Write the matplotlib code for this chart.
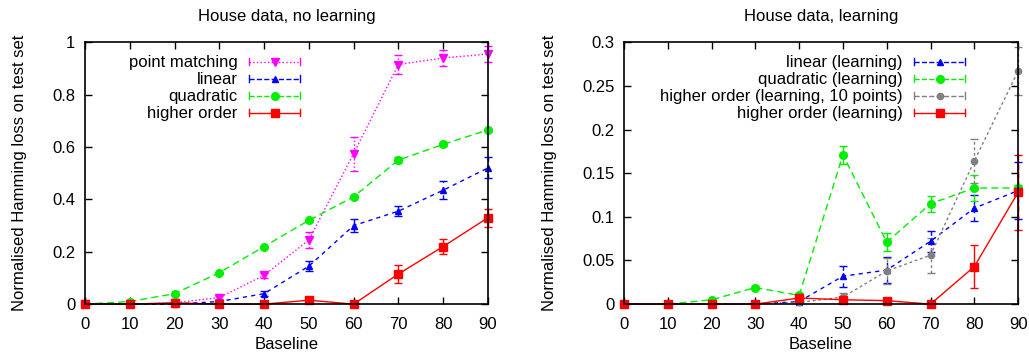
import numpy as np
import matplotlib
matplotlib.use("Agg")
import matplotlib.pyplot as plt
from matplotlib.container import ErrorbarContainer
from matplotlib.legend_handler import HandlerBase
from matplotlib.lines import Line2D

plt.rcParams["font.family"] = ["Liberation Sans", "DejaVu Sans"]
plt.rcParams["font.size"] = 12

baseline = [0, 10, 20, 30, 40, 50, 60, 70, 80, 90]

# House data, no learning
pm = [0, 0, 0.005, 0.025, 0.11, 0.245, 0.575, 0.915, 0.94, 0.955]
pm_err = [0, 0, 0, 0.005, 0.01, 0.03, 0.065, 0.035, 0.03, 0.03]
lin = [0, 0, 0, 0.01, 0.04, 0.145, 0.30, 0.355, 0.435, 0.52]
lin_err = [0, 0, 0, 0.005, 0.01, 0.02, 0.025, 0.02, 0.035, 0.04]
quad = [0, 0.01, 0.04, 0.12, 0.22, 0.32, 0.41, 0.55, 0.61, 0.665]
quad_err = [0, 0, 0, 0, 0, 0.005, 0.005, 0.01, 0.005, 0.005]
hi = [0, 0, 0.005, 0, 0, 0.015, 0, 0.115, 0.22, 0.33]
hi_err = [0, 0, 0, 0, 0, 0, 0, 0.035, 0.03, 0.035]

# House data, learning
lin_l = [0, 0, 0, 0, 0.003, 0.032, 0.039, 0.072, 0.11, 0.13]
lin_l_err = [0, 0, 0, 0, 0.002, 0.012, 0.015, 0.012, 0.015, 0.033]
quad_l = [0, 0, 0.005, 0.019, 0.01, 0.171, 0.071, 0.115, 0.133, 0.133]
quad_l_err = [0, 0, 0, 0.002, 0.003, 0.01, 0.01, 0.009, 0.015, 0.003]
hi10_l = [0, 0, 0, 0, 0.002, 0.008, 0.038, 0.056, 0.164, 0.267]
hi10_l_err = [0, 0, 0, 0, 0.001, 0.005, 0.015, 0.02, 0.025, 0.028]
hi_l = [0, 0, 0, 0, 0.007, 0.005, 0.004, 0, 0.043, 0.128]
hi_l_err = [0, 0, 0, 0, 0.002, 0.001, 0.001, 0.001, 0.025, 0.043]


class GnuplotErrHandler(HandlerBase):
    # gnuplot-like key sample: line with end caps and a marker in the middle
    def create_artists(self, legend, orig_handle, xdescent, ydescent, width, height,
                       fontsize, trans):
        src = orig_handle[0]
        color = src.get_color()
        x0, x1 = -xdescent, width - xdescent
        y = height / 2 - ydescent
        h = 0.3 * height
        line = Line2D([x0, x1], [y, y], color=color, ls=src.get_linestyle(), lw=1)
        capl = Line2D([x0, x0], [y - h, y + h], color=color, lw=1)
        capr = Line2D([x1, x1], [y - h, y + h], color=color, lw=1)
        mk = Line2D([(x0 + x1) / 2], [y], color=color, marker=src.get_marker(),
                    ms=src.get_markersize(), ls="none")
        arts = [line, capl, capr, mk]
        for a in arts:
            a.set_transform(trans)
        return arts


def plot_series(ax, y, err, color, marker, ls, label, ms=5.5):
    eb = ax.errorbar(baseline, y, yerr=err, color=color, marker=marker, ls=ls,
                     lw=1, ms=ms, capsize=3, elinewidth=1, label=label, clip_on=False)
    for c in eb[2]:
        c.set_linestyle(ls)
    return eb


def style_axes(ax, ymax, yticks, ylabels, title, leg_x):
    ax.set_xlim(0, 90)
    ax.set_ylim(0, ymax)
    ax.set_xticks(baseline)
    ax.set_yticks(yticks)
    ax.set_yticklabels(ylabels)
    ax.tick_params(direction="in", top=True, right=True, length=5, width=1, pad=7)
    ax.tick_params(axis="x", pad=9)
    for s in ax.spines.values():
        s.set_linewidth(1.2)
    ax.set_xlabel("Baseline", labelpad=4)
    ax.set_ylabel("Normalised Hamming loss on test set", labelpad=18)
    ax.set_title(title, fontsize=12, pad=15)
    ax.legend(loc="upper right", bbox_to_anchor=(leg_x, 0.95), markerfirst=False,
              frameon=False, handlelength=3.05, borderpad=0, borderaxespad=0,
              labelspacing=0.12, handletextpad=0.7,
              handler_map={ErrorbarContainer: GnuplotErrHandler()})


fig = plt.figure(figsize=(10.29, 3.52), dpi=100)
ax1 = fig.add_axes([0.0826, 0.136, 0.3916, 0.744])
ax2 = fig.add_axes([0.6064, 0.136, 0.383, 0.744])

plot_series(ax1, pm, pm_err, "#ff00ff", "v", ":", "point matching")
plot_series(ax1, lin, lin_err, "#0000ff", "^", (0, (3, 3)), "linear", ms=5)
plot_series(ax1, quad, quad_err, "#00ee00", "o", (0, (5, 3)), "quadratic")
plot_series(ax1, hi, hi_err, "#ff0000", "s", "-", "higher order", ms=6)
style_axes(ax1, 1, [0, 0.2, 0.4, 0.6, 0.8, 1], ["0", "0.2", "0.4", "0.6", "0.8", "1"],
           "House data, no learning", 0.5335)

plot_series(ax2, lin_l, lin_l_err, "#0000ff", "^", (0, (3, 3)), "linear (learning)", ms=5)
plot_series(ax2, quad_l, quad_l_err, "#00ee00", "o", (0, (5, 3)), "quadratic (learning)")
plot_series(ax2, hi10_l, hi10_l_err, "#808080", "o", (0, (2, 2)),
            "higher order (learning, 10 points)", ms=4.5)
plot_series(ax2, hi_l, hi_l_err, "#ff0000", "s", "-", "higher order (learning)", ms=6)
style_axes(ax2, 0.3, [0, 0.05, 0.1, 0.15, 0.2, 0.25, 0.3],
           ["0", "0.05", "0.1", "0.15", "0.2", "0.25", "0.3"], "House data, learning", 0.8655)

fig.savefig("out.png", dpi=100)
